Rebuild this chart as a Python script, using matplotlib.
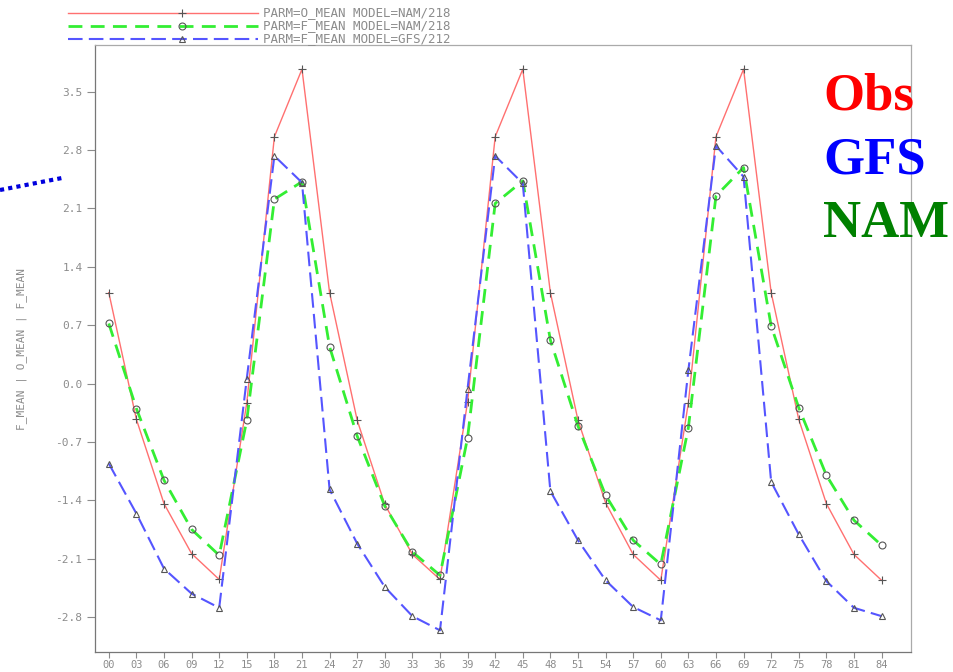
import matplotlib
matplotlib.use("Agg")
import matplotlib.pyplot as plt
from matplotlib.lines import Line2D

hours = list(range(0, 85, 3))

obs_nam = [1.09, -0.43, -1.44, -2.04, -2.35, -0.23, 2.96, 3.77,
           1.09, -0.44, -1.45, -2.05, -2.35, -0.22, 2.96, 3.77,
           1.09, -0.44, -1.43, -2.05, -2.36, -0.23, 2.96, 3.77,
           1.09, -0.43, -1.44, -2.05, -2.36]
fc_nam = [0.72, -0.30, -1.16, -1.75, -2.06, -0.44, 2.21, 2.42,
          0.44, -0.63, -1.47, -2.02, -2.30, -0.65, 2.16, 2.43,
          0.52, -0.51, -1.34, -1.88, -2.17, -0.53, 2.25, 2.59,
          0.69, -0.29, -1.10, -1.64, -1.94]
fc_gfs = [-0.96, -1.56, -2.22, -2.52, -2.69, 0.06, 2.73, 2.41,
          -1.27, -1.92, -2.44, -2.79, -2.96, -0.06, 2.73, 2.40,
          -1.29, -1.88, -2.36, -2.68, -2.84, 0.16, 2.85, 2.48,
          -1.18, -1.81, -2.37, -2.69, -2.79]

yticks = [-2.8, -2.1, -1.4, -0.7, 0.0, 0.7, 1.4, 2.1, 2.8, 3.5]
legend_labels = ["PARM=O_MEAN MODEL=NAM/218",
                 "PARM=F_MEAN MODEL=NAM/218",
                 "PARM=F_MEAN MODEL=GFS/212"]

gray = "#8c8c8c"
mono = "DejaVu Sans Mono"

fig = plt.figure(figsize=(9.54, 6.72), dpi=100)
ax = fig.add_axes([95 / 954, 20 / 672, 816 / 954, 607 / 672])

styles = [
    dict(color="#ff7070", lw=1.0, ls="-", marker="+", ms=6),
    dict(color="#33ee33", lw=2.0, ls=(0, (5, 3)), marker="o", ms=5, mfc="none"),
    dict(color="#5555ff", lw=1.5, ls=(0, (7, 3)), marker="^", ms=5, mfc="none"),
]
series = [obs_nam, fc_nam, fc_gfs]
for vals, st in zip(series, styles):
    ax.plot(hours, vals, color=st["color"], lw=st["lw"], ls=st["ls"],
            marker=st["marker"], ms=st["ms"], mfc=st.get("mfc", "#555555"),
            mec="#555555", mew=0.8)

ax.set_xlim(-1.5, 87.2)
ax.set_ylim(-3.22, 4.06)
ax.set_xticks(hours)
ax.set_xticklabels([f"{h:02d}" for h in hours])
ax.set_yticks(yticks)
ax.set_yticklabels([f"{v:.1f}" for v in yticks])
ax.tick_params(direction="out", color=gray, labelcolor=gray, width=0.8)
ax.tick_params(axis="y", length=6, labelsize=8, pad=3)
ax.tick_params(axis="x", length=4, labelsize=7.5, pad=1.5)
for lab in ax.get_xticklabels() + ax.get_yticklabels():
    lab.set_family(mono)
for sp in ax.spines.values():
    sp.set_color("#aaaaaa")
    sp.set_linewidth(0.9)
ax.spines["left"].set_color("#777777")
ax.spines["bottom"].set_color("#777777")
ax.set_ylabel("F_MEAN | O_MEAN | F_MEAN", family=mono, color=gray, fontsize=8)
ax.yaxis.set_label_coords(-0.083, 0.5)

# legend drawn by hand at the top
rows_y = [13, 26, 39]
for y, lab, st in zip(rows_y, legend_labels, styles):
    fy = 1 - y / 672
    fig.add_artist(Line2D([68 / 954, 258 / 954], [fy, fy], color=st["color"],
                          lw=st["lw"], ls=st["ls"]))
    fig.add_artist(Line2D([182 / 954], [fy], marker=st["marker"], ms=st["ms"],
                          mfc=st.get("mfc", "#555555"), mec="#555555",
                          mew=0.8, ls="none"))
    fig.text(263 / 954, fy, lab, family=mono, color=gray, fontsize=9,
             va="center", ha="left")

# dotted annotation stub on the left
fig.add_artist(Line2D([0, 62 / 954], [1 - 190 / 672, 1 - 178 / 672],
                      color="#0000dd", lw=3, ls=(0, (1, 1))))

for txt, col, base in [("Obs", "red", 110), ("GFS", "blue", 174),
                       ("NAM", "green", 237)]:
    fig.text(823 / 954, 1 - base / 672, txt, color=col, fontsize=38,
             family="Liberation Serif", weight="bold", va="baseline", ha="left")

fig.savefig("out.png", dpi=100)
